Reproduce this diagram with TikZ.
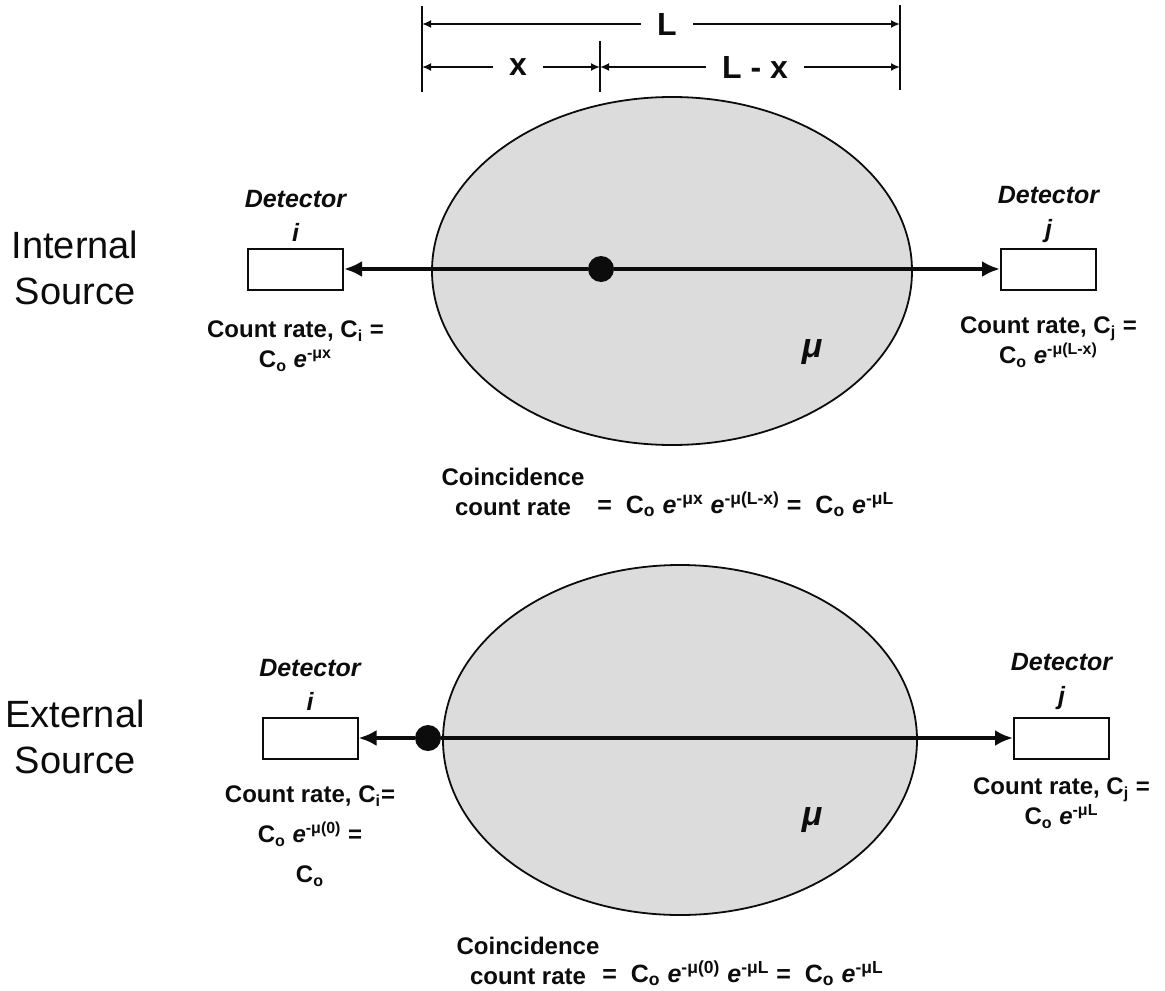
\documentclass[tikz,border=0pt]{standalone}
\usepackage{fontspec}
\setmainfont{Liberation Sans}
\usetikzlibrary{arrows.meta,positioning,shapes.geometric}
\definecolor{phantomgray}{RGB}{220,220,220}
\definecolor{inkblack}{RGB}{12,12,12}
\newcommand{\attn}[1]{\textit{e}\textsuperscript{-μ#1}}
\tikzset{
  detbox/.style={draw=inkblack, line width=1pt, fill=white, minimum width=47.5pt,
    minimum height=20.5pt, inner sep=0pt},
  body/.style={ellipse, draw=inkblack, line width=0.9pt, fill=phantomgray, inner sep=0pt},
  src/.style={circle, fill=inkblack, minimum size=13pt, inner sep=0pt},
  ray/.style={-{Latex[length=9pt,width=8pt]}, line width=2.4pt, draw=inkblack},
  dimline/.style={-{Latex[length=4.5pt,width=4pt]}, line width=1.2pt, draw=inkblack},
  tick/.style={line width=1pt, draw=inkblack},
  lbl/.style={font=\bfseries\fontsize{12}{15}\selectfont, text=inkblack, inner sep=1pt, align=center},
  eqlbl/.style={font=\bfseries\fontsize{12.5}{15}\selectfont, text=inkblack, inner sep=1pt},
  detlbl/.style={font=\bfseries\itshape\fontsize{12.5}{17}\selectfont, text=inkblack, inner sep=1pt, align=center},
  dimlbl/.style={font=\bfseries\fontsize{16}{18}\selectfont, text=inkblack, inner xsep=8pt},
  mulbl/.style={font=\bfseries\itshape\fontsize{17}{20}\selectfont, text=inkblack},
  sidelbl/.style={font=\fontsize{19}{23}\selectfont, text=inkblack, align=center, inner sep=0pt}
}

\begin{document}
\begin{tikzpicture}[x=0.5pt, y=-0.5pt]
  \useasboundingbox (0,0) rectangle (1165,990);

  % dimensions over the top phantom
  \coordinate (tickL1) at (422,6);
  \coordinate (tickL2) at (422,92);
  \coordinate (tickM1) at (600,41);
  \coordinate (tickM2) at (600,92);
  \coordinate (tickR1) at (900,5);
  \coordinate (tickR2) at (900,90);
  \draw[tick] (tickL1) -- (tickL2);
  \draw[tick] (tickM1) -- (tickM2);
  \draw[tick] (tickR1) -- (tickR2);
  \node[dimlbl] (dimL) at (667,24) {L};
  \node[dimlbl] (dimx) at (518,67) {x};
  \node[dimlbl] (dimLx) at (755,67) {L - x};
  \draw[dimline] (dimL) -- (tickL1 |- dimL);
  \draw[dimline] (dimL) -- (tickR1 |- dimL);
  \draw[dimline] (dimx) -- (tickL1 |- dimx);
  \draw[dimline] (dimx) -- (tickM1 |- dimx);
  \draw[dimline] (dimLx) -- (tickM1 |- dimLx);
  \draw[dimline] (dimLx) -- (tickR1 |- dimLx);

  % internal source
  \node[sidelbl] (intlbl) at (75,268) {Internal\\Source};
  \node[body, minimum width=240pt, minimum height=174pt] (bodyA) at (672,271) {};
  \node[detbox] (detAi) at (295.5,269) {};
  \node[detbox] (detAj) at (1048.5,269) {};
  \node[src] (srcA) at (601,269) {};
  \draw[ray] (srcA) -- (detAi);
  \draw[ray] (srcA) -- (detAj);
  \node[detlbl, above=2pt of detAi] (detAilbl) {Detector\\i};
  \node[lbl, below=14pt of detAi] (rateAi) {Count rate, C\textsubscript{i} =\\C\textsubscript{o} \attn{x}};
  \node[detlbl, above=1pt of detAj] (detAjlbl) {Detector\\j};
  \node[lbl, below=12pt of detAj] (rateAj) {Count rate, C\textsubscript{j} =\\C\textsubscript{o} \attn{(L-x)}};
  \node[mulbl] (muA) at (812,352) {μ};
  \node[lbl] (coinA) at (513,492) {Coincidence\\count rate};
  \node[eqlbl, anchor=base west] (eqA) at (595,513) {= \ C\textsubscript{o} \attn{x} \attn{(L-x)} = \ C\textsubscript{o} \attn{L}};

  % external source
  \node[sidelbl] (extlbl) at (75,737) {External\\Source};
  \node[body, minimum width=237pt, minimum height=175pt] (bodyB) at (680,740) {};
  \node[detbox] (detBi) at (310,738) {};
  \node[detbox] (detBj) at (1061.5,738) {};
  \node[src] (srcB) at (428,738) {};
  \draw[ray] (srcB) -- (detBi);
  \draw[ray] (srcB) -- (detBj);
  \node[detlbl, above=2pt of detBi] (detBilbl) {Detector\\i};
  \node[lbl, font=\bfseries\fontsize{12}{20}\selectfont, below=12pt of detBi] (rateBi) {Count rate, C\textsubscript{i}=\\C\textsubscript{o} \attn{(0)} =\\C\textsubscript{o}};
  \node[detlbl, above=2pt of detBj] (detBjlbl) {Detector\\j};
  \node[lbl, below=8pt of detBj] (rateBj) {Count rate, C\textsubscript{j} =\\C\textsubscript{o} \attn{L}};
  \node[mulbl] (muB) at (812,820) {μ};
  \node[lbl] (coinB) at (528,961) {Coincidence\\count rate};
  \node[eqlbl, anchor=base west] (eqB) at (600,982) {= \ C\textsubscript{o} \attn{(0)} \attn{L} = \ C\textsubscript{o} \attn{L}};
\end{tikzpicture}
\end{document}
